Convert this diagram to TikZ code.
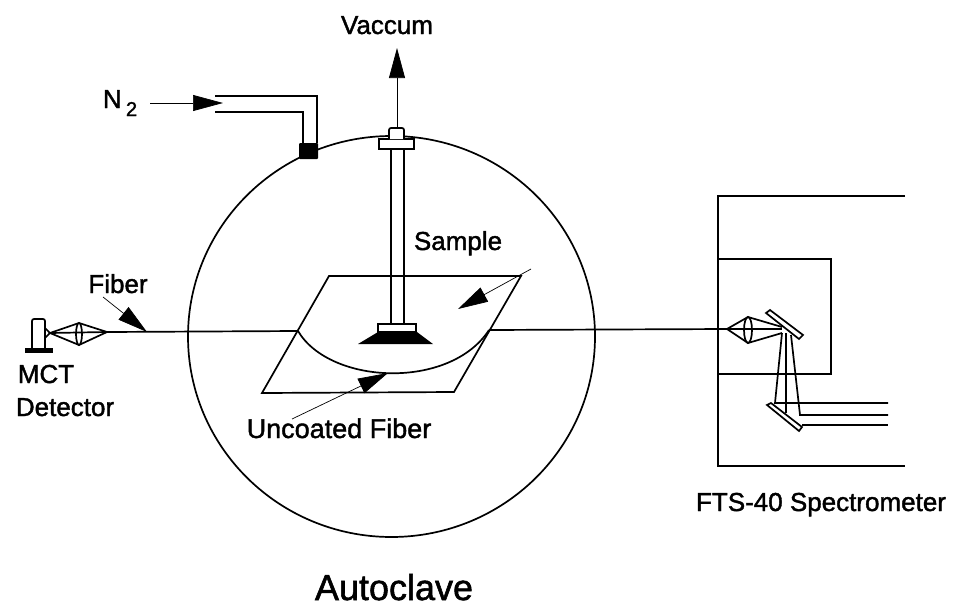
\documentclass[tikz,border=0pt]{standalone}
\usepackage{fontspec}
\setmainfont[FakeBold=1.5]{Liberation Sans}
\usetikzlibrary{arrows.meta}
\tikzset{
  lbl/.style={inner sep=0pt,anchor=base,font=\fontsize{26}{28}\selectfont},
  ln/.style={line width=1.7pt},
  ptr/.style={line width=0.7pt,-{Triangle[length=30pt,width=16pt]}},
}
\begin{document}
\begin{tikzpicture}
[x=1pt,y=-1pt]
\useasboundingbox (0,0) rectangle (958,608);
% autoclave
\draw [ln] (391.5,336.5) ellipse (203.5pt and 200.5pt);
\node [lbl,font=\fontsize{36}{38}\selectfont] (autoclave) at (394,600) {Autoclave};
% sample plate
\coordinate (fiberl) at (298,331);
\coordinate (fiberr) at (489,330);
\draw [ln] (329,276) -- (521,276) -- (454,392) -- (262,393) -- cycle;
\draw [ln] (fiberl) .. controls (330,385) and (450,390) .. (fiberr);
% sample holder
\draw [ln] (391,149) -- (391,324);
\draw [ln] (404,149) -- (404,324);
\draw [ln,fill=white] (379,139) rectangle (414,149);
\draw [ln,fill=white,rounded corners=2pt] (389,139) -- (389,128) -- (404,128) -- (404,139);
\draw [ln] (378,324) rectangle (416,332);
\fill (378,332) -- (417,332) -- (433,344) -- (358,344) -- cycle;
\node [lbl] (sample) at (458,250) {Sample};
\coordinate (sampletail) at (531,269);
\coordinate (samplehead) at (458,309);
\draw [ptr] (sampletail) -- (samplehead);
\node [lbl,font=\fontsize{27}{28}\selectfont] (uncoated) at (339,438) {Uncoated Fiber};
\coordinate (uncoatedtail) at (292,419);
\coordinate (uncoatedhead) at (388,373);
\draw [ptr] (uncoatedtail) -- (uncoatedhead);
% vacuum
\node [lbl] (vaccum) at (387,34) {Vaccum};
\coordinate (vactail) at (397,128);
\coordinate (vachead) at (397,48);
\draw [ptr] (vactail) -- (vachead);
% nitrogen
\node [lbl] (nitrogen) at (120,108) {N\,\raisebox{-8pt}{\fontsize{20}{20}\selectfont 2}};
\coordinate (ntail) at (150,103);
\coordinate (nhead) at (223,103);
\draw [ln] (215,96) -- (317,96) -- (317,143);
\draw [ln] (215,112) -- (303,112) -- (303,143);
\draw [ptr] (ntail) -- (nhead);
\fill [rounded corners=1pt] (299,143) rectangle (318,159);
% detector
\draw [ln,rounded corners=2pt] (32,348) -- (32,319) -- (45,319) -- (45,348);
\draw [ln,fill=black] (26,349) rectangle (52,352);
\draw [ln] (45,328) -- (50,333) -- (45,338);
\draw [ln] (79,334) ellipse (3pt and 11pt);
\draw [ln] (50,333) -- (79,323) -- (107,332) -- (79,345) -- cycle;
\draw [ln] (50,333) -- (107,332);
\node [lbl] (mct) at (46,383) {MCT};
\node [lbl] (detector) at (65,416) {Detector};
% fiber
\draw [ln] (107,332) -- (fiberl);
\draw [ln] (fiberr) -- (727,329);
\node [lbl] (fiber) at (118,293) {Fiber};
\coordinate (fibertail) at (103,297);
\coordinate (fiberhead) at (147,332);
\draw [ptr] (fibertail) -- (fiberhead);
% spectrometer
\draw [ln] (905,196) -- (718,196) -- (718,466) -- (905,466);
\draw [ln] (718,259) -- (831,259) -- (831,374) -- (718,374);
\draw [ln] (748,330) ellipse (4pt and 13pt);
\draw [ln] (727,329) -- (748,317) -- (782,327);
\draw [ln] (727,329) -- (748,343) -- (782,333);
\draw [ln] (727,329) -- (782,329);
\draw [ln] (766,313) -- (770,310) -- (803,335) -- (799,339) -- cycle;
\draw [ln] (782,333) -- (775,403) -- (888,403);
\draw [ln] (786,333) -- (786,413);
\draw [ln] (791,335) -- (800,415) -- (888,415);
\draw [ln] (767,405) -- (771,403) -- (802,427) -- (799,431) -- cycle;
\draw [ln] (802,425) -- (888,425);
\node [lbl] (fts) at (821,511) {FTS-40 Spectrometer};
\end{tikzpicture}
\end{document}
